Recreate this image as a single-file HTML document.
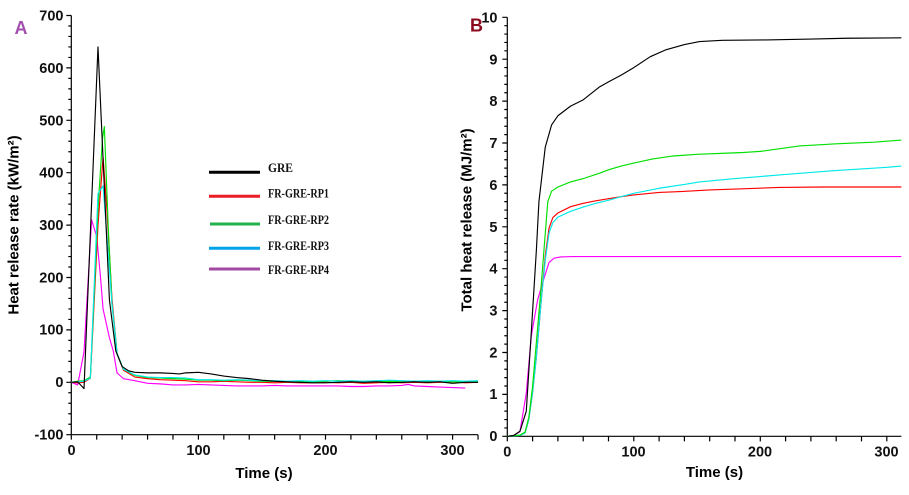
<!DOCTYPE html>
<html><head><meta charset="utf-8"><style>
html,body{margin:0;padding:0;background:#fff;}
svg{display:block;}
text{font-family:"Liberation Sans",Arial,sans-serif;}
.tk text{font-size:14.5px;font-weight:bold;fill:#111;}
.lab{font-size:15px;font-weight:bold;fill:#000;}
.lg text{font-family:"Liberation Serif","Times New Roman",serif;font-size:12.5px;font-weight:bold;fill:#111;}
.ln{fill:none;stroke-width:1.15;vector-effect:non-scaling-stroke;stroke-linejoin:round;}
.ax{fill:none;stroke:#000;stroke-width:1.2;vector-effect:non-scaling-stroke;}
.let{font-size:18px;font-weight:bold;}
</style></head><body>
<svg width="909" height="495" viewBox="0 0 909 495" xmlns="http://www.w3.org/2000/svg">
<rect width="909" height="495" fill="#fff"/>

<!-- ============ LEFT CHART ============ -->
<text class="let" x="14.5" y="34" fill="#a24fae">A</text>

<g transform="translate(71.3,382.3) scale(1.271,-0.524)">
  <path class="ax" d="M0,-100V700M0,-100H320"/>
  <path class="ax" d="M-3.93,-100H0M-3.93,0H0M-3.93,100H0M-3.93,200H0M-3.93,300H0M-3.93,400H0M-3.93,500H0M-3.93,600H0M-3.93,700H0"/>
  <path class="ax" d="M-2.36,-80H0M-2.36,-60H0M-2.36,-40H0M-2.36,-20H0M-2.36,20H0M-2.36,40H0M-2.36,60H0M-2.36,80H0M-2.36,120H0M-2.36,140H0M-2.36,160H0M-2.36,180H0M-2.36,220H0M-2.36,240H0M-2.36,260H0M-2.36,280H0M-2.36,320H0M-2.36,340H0M-2.36,360H0M-2.36,380H0M-2.36,420H0M-2.36,440H0M-2.36,460H0M-2.36,480H0M-2.36,520H0M-2.36,540H0M-2.36,560H0M-2.36,580H0M-2.36,620H0M-2.36,640H0M-2.36,660H0M-2.36,680H0"/>
  <path class="ax" d="M0,-100V-109.5M20,-100V-109.5M40,-100V-109.5M60,-100V-109.5M80,-100V-109.5M100,-100V-109.5M120,-100V-109.5M140,-100V-109.5M160,-100V-109.5M180,-100V-109.5M200,-100V-109.5M220,-100V-109.5M240,-100V-109.5M260,-100V-109.5M280,-100V-109.5M300,-100V-109.5M320,-100V-109.5"/>

  <!-- magenta RP4 -->
  <polyline class="ln" stroke="#ff00ff" points="0,0 5,-5 10,58 16,310 20,278 23,200 25,140 30,85 33,60 36,18 41,7 50,3 60,-2 70,-3 80,-5 90,-5 100,-4 110,-5 120,-6 130,-7 140,-7 150,-7 160,-6 170,-7 180,-7 190,-7 200,-7 210,-7 220,-8 230,-8 240,-7 250,-7 260,-6 265,-4 270,-7 280,-8 290,-9 300,-10 310,-11"/>
  <!-- red RP1 -->
  <polyline class="ln" stroke="#ff0000" points="0,0 5,-1 10,0 15,8 21,300 25,430 28,330 32,160 36,55 41,23 50,10 60,7 70,5 80,4 90,3 100,1 110,1 120,2 130,1 140,0 150,0 160,-1 170,0 180,-1 190,-1 200,0 210,-1 220,0 230,-2 240,-1 250,0 260,-1 270,0 280,-1 290,0 300,1 310,-1 320,0"/>
  <!-- green RP2 -->
  <polyline class="ln" stroke="#00e000" points="0,0 5,2 10,3 15,10 21,330 24.5,465 26,488 29,300 32,150 36,55 41,25 50,13 60,9 70,8 80,7 90,6 100,4 110,4 120,3 130,4 140,3 150,2 160,2 170,1 180,2 190,1 200,2 210,3 220,2 230,2 240,1 250,2 260,1 270,2 280,1 290,2 300,1 310,1 320,1"/>
  <!-- cyan RP3 -->
  <polyline class="ln" stroke="#00e8e8" points="0,0 5,1 10,2 15,8 21,360 25,375 28,280 32,150 36,55 41,25 50,14 60,10 70,9 80,9 90,8 100,5 110,5 120,4 130,5 140,4 150,3 160,3 170,2 180,3 190,2 200,3 210,2 220,3 230,2 240,3 250,4 260,3 270,2 280,3 290,2 300,3 310,2 320,3"/>
  <!-- black GRE -->
  <polyline class="ln" stroke="#000" points="0,0 5,1 10,-12 21,640 30,157 35,60 40,30 45,22 50,19 60,18 70,18 80,17 85,16 90,18 100,19 110,16 120,12 130,9 140,7 150,4 160,2 170,1 180,0 190,-1 200,-1 210,0 220,1 230,0 240,1 250,-1 260,0 270,1 280,0 290,1 300,-2 310,0 320,0"/>
</g>

<!-- left y tick labels -->
<g class="tk" text-anchor="end">
  <text x="63.5" y="20.5">700</text>
  <text x="63.5" y="73">600</text>
  <text x="63.5" y="125.5">500</text>
  <text x="63.5" y="177.5">400</text>
  <text x="63.5" y="230">300</text>
  <text x="63.5" y="282.5">200</text>
  <text x="63.5" y="334.5">100</text>
  <text x="63.5" y="387">0</text>
  <text x="63.5" y="439.5">-100</text>
</g>
<g class="tk" text-anchor="middle">
  <text x="71.5" y="455">0</text>
  <text x="198.5" y="455">100</text>
  <text x="325.5" y="455">200</text>
  <text x="452.5" y="455">300</text>
</g>
<text class="lab" text-anchor="middle" x="264" y="478">Time (s)</text>
<text class="lab" text-anchor="middle" transform="translate(18.5,225) rotate(-90)">Heat release rate (kW/m²)</text>

<!-- legend -->
<g stroke-width="3">
  <line x1="209" y1="172.3" x2="260" y2="172.3" stroke="#000"/>
  <line x1="209" y1="196.3" x2="260" y2="196.3" stroke="#ec1c24"/>
  <line x1="210" y1="224" x2="260" y2="224" stroke="#22b14c"/>
  <line x1="209" y1="248.3" x2="260" y2="248.3" stroke="#00a2e8"/>
  <line x1="209" y1="269" x2="260" y2="269" stroke="#a349a4"/>
</g>
<g class="lg">
  <text x="268" y="172" textLength="25" lengthAdjust="spacingAndGlyphs">GRE</text>
  <text x="268" y="197.7" textLength="61" lengthAdjust="spacingAndGlyphs">FR-GRE-RP1</text>
  <text x="268" y="224" textLength="61" lengthAdjust="spacingAndGlyphs">FR-GRE-RP2</text>
  <text x="268" y="250" textLength="61" lengthAdjust="spacingAndGlyphs">FR-GRE-RP3</text>
  <text x="268" y="274" textLength="61" lengthAdjust="spacingAndGlyphs">FR-GRE-RP4</text>
</g>

<!-- ============ RIGHT CHART ============ -->
<text class="let" x="470" y="31.7" fill="#8b0a1e">B</text>

<g transform="translate(507.3,436.3) scale(1.265,-41.9)">
  <path class="ax" d="M0,0V10M0,0H311.5"/>
  <path class="ax" d="M-3.95,0H0M-3.95,1H0M-3.95,2H0M-3.95,3H0M-3.95,4H0M-3.95,5H0M-3.95,6H0M-3.95,7H0M-3.95,8H0M-3.95,9H0M-3.95,10H0"/>
  <path class="ax" d="M-2.37,0.2H0M-2.37,0.4H0M-2.37,0.6H0M-2.37,0.8H0M-2.37,1.2H0M-2.37,1.4H0M-2.37,1.6H0M-2.37,1.8H0M-2.37,2.2H0M-2.37,2.4H0M-2.37,2.6H0M-2.37,2.8H0M-2.37,3.2H0M-2.37,3.4H0M-2.37,3.6H0M-2.37,3.8H0M-2.37,4.2H0M-2.37,4.4H0M-2.37,4.6H0M-2.37,4.8H0M-2.37,5.2H0M-2.37,5.4H0M-2.37,5.6H0M-2.37,5.8H0M-2.37,6.2H0M-2.37,6.4H0M-2.37,6.6H0M-2.37,6.8H0M-2.37,7.2H0M-2.37,7.4H0M-2.37,7.6H0M-2.37,7.8H0M-2.37,8.2H0M-2.37,8.4H0M-2.37,8.6H0M-2.37,8.8H0M-2.37,9.2H0M-2.37,9.4H0M-2.37,9.6H0M-2.37,9.8H0"/>
  <path class="ax" d="M0,0V-0.12M20,0V-0.12M40,0V-0.12M60,0V-0.12M80,0V-0.12M100,0V-0.12M120,0V-0.12M140,0V-0.12M160,0V-0.12M180,0V-0.12M200,0V-0.12M220,0V-0.12M240,0V-0.12M260,0V-0.12M280,0V-0.12M300,0V-0.12"/>

  <!-- magenta -->
  <polyline class="ln" stroke="#ff00ff" points="0,0 5,0.02 10,0.11 15,1.03 19,2.4 24,3.26 29,3.77 33,4.15 37,4.25 42,4.28 52,4.29 311.5,4.29"/>
  <!-- red -->
  <polyline class="ln" stroke="#ff0000" points="0,0 10,0.02 14,0.08 17,0.4 20,1.05 23,1.9 27,3.3 30,4.3 33,4.97 36,5.22 40,5.33 50,5.48 60,5.56 70,5.62 80,5.67 90,5.72 100,5.76 120,5.82 137,5.84 160,5.88 180,5.9 215,5.94 250,5.95 280,5.95 311.5,5.95"/>
  <!-- cyan -->
  <polyline class="ln" stroke="#00e8e8" points="0,0 10,0.02 14,0.08 17,0.4 20,1.05 23,1.9 27,3.3 30,4.2 33,4.85 36,5.1 40,5.23 50,5.37 60,5.47 70,5.56 81,5.64 90,5.72 100,5.8 120,5.92 140,6.01 152,6.07 180,6.15 200,6.2 220,6.25 258,6.34 280,6.38 300,6.42 311.5,6.45"/>
  <!-- green -->
  <polyline class="ln" stroke="#00e000" points="0,0 10,0.03 14,0.1 17,0.45 20,1.2 22,1.9 26,3.3 29,4.45 32,5.6 35,5.85 40,5.95 50,6.07 60,6.15 73,6.28 80,6.36 90,6.45 100,6.52 115,6.62 131,6.69 150,6.73 184,6.77 200,6.8 231,6.93 260,6.98 290,7.02 311.5,7.07"/>
  <!-- black -->
  <polyline class="ln" stroke="#000" points="0,0 5,0.02 10,0.12 15,0.6 19,2.5 23,4.45 25,5.6 30,6.9 35,7.43 40,7.65 50,7.88 60,8.03 73,8.34 80,8.46 90,8.62 100,8.8 113,9.06 125,9.22 140,9.35 152,9.42 170,9.45 205,9.46 240,9.48 268,9.5 311.5,9.51"/>
</g>

<g class="tk" text-anchor="end">
  <text x="497.5" y="22.5">10</text>
  <text x="497.5" y="64.3">9</text>
  <text x="497.5" y="106">8</text>
  <text x="497.5" y="148">7</text>
  <text x="497.5" y="190">6</text>
  <text x="497.5" y="232">5</text>
  <text x="497.5" y="273.5">4</text>
  <text x="497.5" y="315.5">3</text>
  <text x="497.5" y="357.5">2</text>
  <text x="497.5" y="399">1</text>
  <text x="497.5" y="441">0</text>
</g>
<g class="tk" text-anchor="middle">
  <text x="507.3" y="456.7">0</text>
  <text x="633.5" y="456.7">100</text>
  <text x="760" y="456.7">200</text>
  <text x="886.5" y="456.7">300</text>
</g>
<text class="lab" text-anchor="middle" x="714.5" y="477">Time (s)</text>
<text class="lab" text-anchor="middle" transform="translate(471.5,220) rotate(-90)">Total heat release (MJ/m²)</text>
</svg>
</body></html>
